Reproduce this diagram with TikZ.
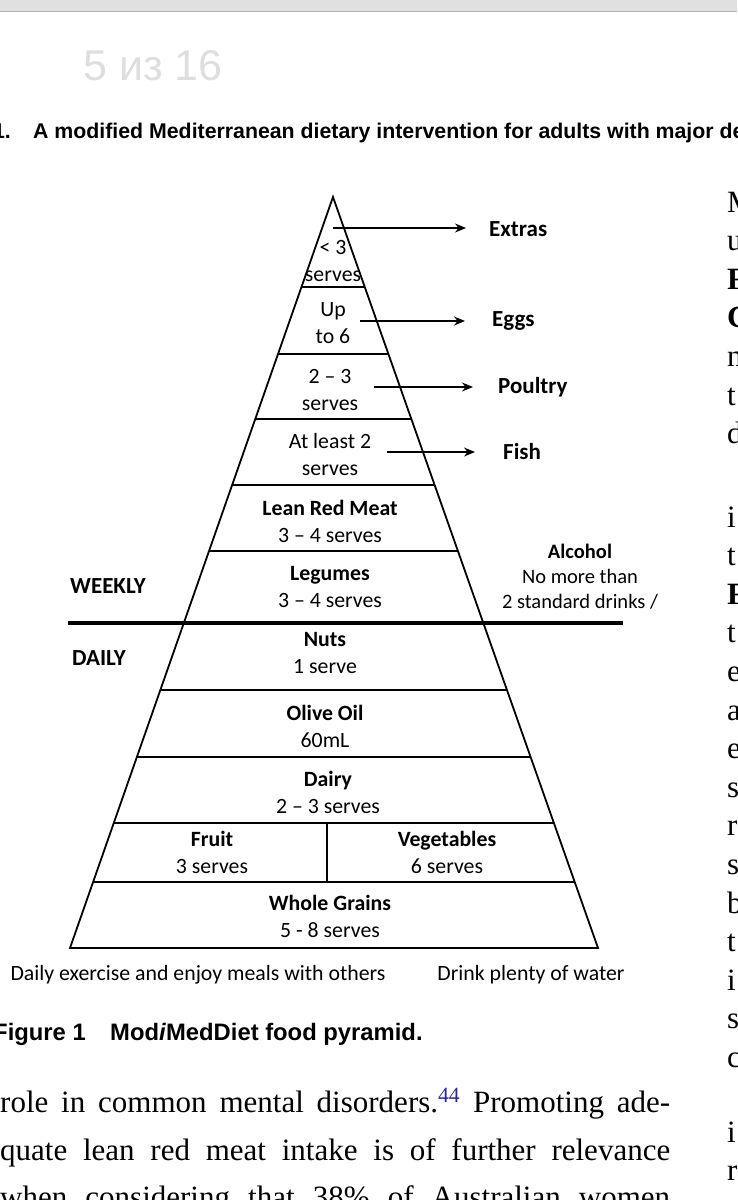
\documentclass[tikz,border=0pt]{standalone}
\usepackage{fontspec}
\setmainfont{Liberation Serif}
\newfontfamily\cali{Carlito}
\newfontfamily\arial{Liberation Sans}
\usetikzlibrary{positioning,arrows.meta}
\definecolor{refblue}{RGB}{40,40,150}
\tikzset{
  side/.style={line width=1.8pt},
  lbl/.style={font=\cali\fontsize{21.8}{27}\selectfont, align=center, inner sep=0pt},
  food/.style={font=\cali\bfseries\fontsize{23}{27}\selectfont, inner sep=0pt, anchor=west},
  body/.style={font=\fontsize{31}{38}\selectfont, inner sep=0pt, anchor=base west},
}
\begin{document}
\begin{tikzpicture}[>={Stealth[length=11pt,width=9pt]},x=1pt,y=-1pt]
  \useasboundingbox (0,0) rectangle (737,1200);
  \clip (0,0) rectangle (737,1200);
  % screen top bar
  \fill[black!12] (0,0) rectangle (737,11);
  \draw[black!30,line width=1.5pt] (0,11.5) -- (737,11.5);
  \node[font=\arial\fontsize{43}{43}\selectfont, text=black!13, anchor=base west, inner sep=0pt] (page) at (83,80) {5 из 16};
  \node[font=\arial\bfseries\fontsize{21.3}{23}\selectfont, anchor=base east, inner sep=0pt] (tabno) at (11,138) {1.};
  \node[font=\arial\bfseries\fontsize{21.3}{23}\selectfont, anchor=base west, inner sep=0pt] (title) at (33,138) {A modified Mediterranean dietary intervention for adults with major depression};
  % pyramid
  \draw[side,line join=miter] (70,948) -- (333,197) -- (598,948) -- cycle;
  \foreach \y in {287,354,419,485,551,690,757,823,882}{
    \pgfmathsetmacro\xl{333-0.3502*(\y-197)}
    \pgfmathsetmacro\xr{333+0.3529*(\y-197)}
    \draw[side] (\xl,\y) -- (\xr,\y);
  }
  \draw[side] (327,823) -- (327,882);
  \draw[line width=3.2pt] (68,623) -- (623,623);
  % serves in the tiers
  \node[lbl] (extrasq) at (333,261) {< 3\\serves};
  \node[lbl] (eggsq) at (333,323) {Up\\to 6};
  \node[lbl] (poultryq) at (330,390) {2 – 3\\serves};
  \node[lbl] (fishq) at (330,455) {At least 2\\serves};
  \node[lbl] (redmeat) at (330,521) {\textbf{Lean Red Meat}\\3 – 4 serves};
  \node[lbl] (legumes) at (330,587) {\textbf{Legumes}\\3 – 4 serves};
  \node[lbl] (nuts) at (325,653) {\textbf{Nuts}\\1 serve};
  \node[lbl] (oliveoil) at (325,726) {\textbf{Olive Oil}\\60mL};
  \node[lbl] (dairy) at (328,792) {\textbf{Dairy}\\2 – 3 serves};
  \node[lbl] (fruit) at (212,852) {\textbf{Fruit}\\3 serves};
  \node[lbl] (veg) at (447,852) {\textbf{Vegetables}\\6 serves};
  \node[lbl] (grains) at (330,916) {\textbf{Whole Grains}\\5 - 8 serves};
  \node[lbl,font=\cali\fontsize{20.5}{25}\selectfont] (alcohol) at (580,577) {\textbf{Alcohol}\\No more than\\2 standard drinks /};
  \node[food] (weekly) at (70,586) {WEEKLY};
  \node[food] (daily) at (72,658) {DAILY};
  \node[lbl] (exercise) at (198,975) {Daily exercise and enjoy meals with others};
  \node[lbl] (water) at (531,975) {Drink plenty of water};
  % weekly foods
  \node[food] (extras) at (489,229) {Extras};
  \node[food] (eggs) at (492,321) {Eggs};
  \node[food] (poultry) at (498,387) {Poultry};
  \node[food] (fish) at (503,452) {Fish};
  \coordinate (extrasarr) at (333,228);
  \coordinate (eggsarr) at (360,321);
  \coordinate (poultryarr) at (374,387);
  \coordinate (fisharr) at (387,452);
  \draw[->,line width=1.5pt,shorten >=23pt] (extrasarr) -- (extrasarr -| extras.west);
  \draw[->,line width=1.5pt,shorten >=27pt] (eggsarr) -- (eggsarr -| eggs.west);
  \draw[->,line width=1.5pt,shorten >=25pt] (poultryarr) -- (poultryarr -| poultry.west);
  \draw[->,line width=1.5pt,shorten >=28pt] (fisharr) -- (fisharr -| fish.west);
  % caption
  \node[font=\arial\bfseries\fontsize{23.8}{26}\selectfont, anchor=base east, inner sep=0pt] (fig) at (86,1040) {Figure 1};
  \node[font=\arial\bfseries\fontsize{23.8}{26}\selectfont, anchor=base west, inner sep=0pt] (figtitle) at (110,1040) {Mod\textit{i}MedDiet food pyramid.};
  % page text
  \node[body] (line1) at (0,1112) {\makebox[670pt][s]{role in common mental disorders.\textcolor{refblue}{\textsuperscript{44}} Promoting ade-}};
  \node[body] (line2) at (0,1160) {\makebox[670pt][s]{quate lean red meat intake is of further relevance}};
  \node[body] (line3) at (0,1207) {\makebox[670pt][s]{when considering that 38\% of Australian women}};
  \foreach \t [count=\i] in {M,u,\textbf{F},\textbf{C},n,t,d}
    \node[body] (colA\i) at (727,205+38.6*\i-31.6) {\t};
  \foreach \t [count=\i] in {i,t,\textbf{F},t,e,a,e,s,r,s,b,t,i,s,c}
    \node[body] (colB\i) at (727,520+38.6*\i-31.6) {\t};
  \foreach \t [count=\i] in {i,r}
    \node[body] (colC\i) at (727,1135+38.6*\i-31.6) {\t};
\end{tikzpicture}
\end{document}
